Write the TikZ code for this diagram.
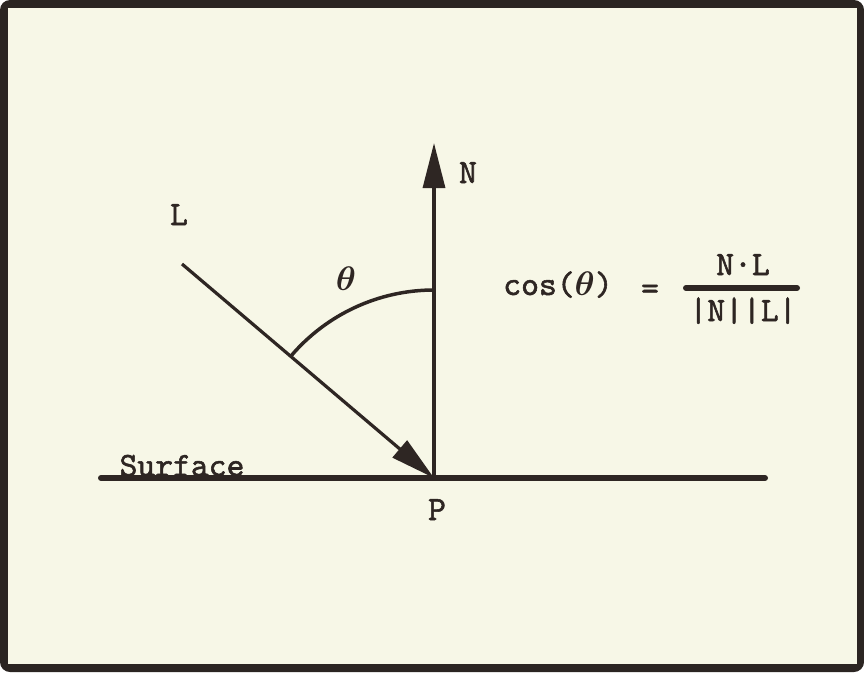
\RequirePackage{fix-cm}
\documentclass[tikz,border=0pt]{standalone}
\usepackage{fontspec}
\usetikzlibrary{arrows.meta,positioning,calc}
\newfontfamily\platett[FakeBold=1.6]{lmmono10-regular.otf}
\definecolor{PlateInk}{HTML}{2E2623}
\definecolor{PlatePaper}{HTML}{F7F7E7}
\definecolor{PlateEdge}{HTML}{2B2522}

\begin{document}
\begin{tikzpicture}[x=1pt,y=-1pt,
  lbl/.style={font=\fontsize{34}{38}\selectfont\platett\boldmath, text=PlateInk, inner sep=0pt, anchor=base},
  vec/.style={line width=3.2pt, PlateInk, -{Triangle[length=45pt,width=22pt]}}]
  \fill[white] (0,0) rectangle (864,672);
  \fill[PlateEdge, rounded corners=10pt] (0,0) rectangle (864,672);
  \fill[PlatePaper] (8,8) rectangle (857,664);

  \coordinate (p) at (434,478);
  \coordinate (ntip) at (434,143);
  \coordinate (ltail) at (182,264);
  \coordinate (sleft) at (101,478);
  \coordinate (sright) at (765,478);
  \coordinate (barl) at (686,288);
  \coordinate (barr) at (797,288);

  \draw[line width=6pt, line cap=round, PlateInk] (sleft) -- (sright);
  \draw[vec] (p) -- (ntip);
  \draw[vec] (ltail) -- (p);
  \draw[line width=3.5pt, PlateInk] (434,290) arc[start angle=270, end angle=220.3, radius=188];

  \node[lbl] (surface) at (182,476) {Surface};
  \node[lbl] (ptlabel) at (437,520) {P};
  \node[lbl] (nlabel) at (468,183) {N};
  \node[lbl] (llabel) at (179,225) {L};
  \node[lbl] (theta) at (346,290) {$\theta$};

  \node[lbl] (cosine) at (558,295) {cos($\theta$)};
  \node[lbl] (equals) at (650,299) {=};
  \node[lbl] (numer) at (743,275) {N·L};
  \node[lbl] (denom) at (743,321) {|N||L|};
  \draw[line width=6pt, line cap=round, PlateInk] (barl) -- (barr);

\end{tikzpicture}
\end{document}
